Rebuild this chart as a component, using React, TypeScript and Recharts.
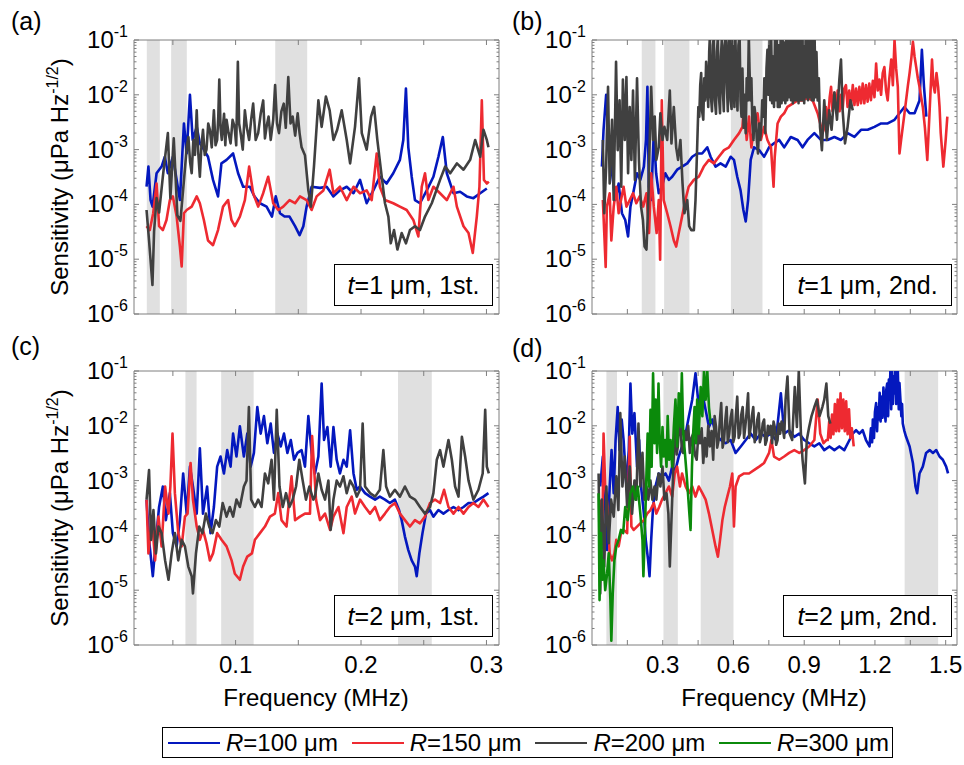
import React from 'react';
import { LineChart, Line, XAxis, YAxis, ReferenceArea } from 'recharts';

type P = [number, number];

const FONT = '"Liberation Sans", Arial, Helvetica, sans-serif';
const AXIS_COLOR = '#7f7f7f';
const BAND_COLOR = '#e0e0e0';

const RADII = ['100', '150', '200', '300'];
const COLORS = ['#0418be', '#ee2a31', '#404040', '#0b8a0b'];

const Y_DECADES = [1e-6, 1e-5, 1e-4, 1e-3, 1e-2, 1e-1];
const Y_MINOR_MULT = [2, 3, 4, 5, 6, 7, 8, 9];
const Y_TICKS = [...Y_DECADES, ...Y_DECADES.slice(0, 5).flatMap((d) => Y_MINOR_MULT.map((m) => m * d))];
const Y_DOMAIN: [number, number] = [1e-6, 1e-1];

const X_TICKS_1ST = [0.05, 0.1, 0.15, 0.2, 0.25, 0.3];
const X_LABELS_1ST = [0.1, 0.2, 0.3];
const X_TICKS_2ND = [0.15, 0.3, 0.45, 0.6, 0.75, 0.9, 1.05, 1.2, 1.35, 1.5];
const X_LABELS_2ND = [0.3, 0.6, 0.9, 1.2, 1.5];
const X_DOMAIN_1ST: [number, number] = [0.019, 0.31];
const X_DOMAIN_2ND: [number, number] = [0, 1.548];

const BANDS_A: P[] = [[0.0292, 0.0396], [0.0486, 0.0611], [0.1316, 0.1571]];
const BANDS_B: P[] = [[0.211, 0.269], [0.306, 0.413], [0.589, 0.723]];
const BANDS_C: P[] = [[0.06, 0.0689], [0.0885, 0.1144], [0.2295, 0.2564]];
const BANDS_D: P[] = [[0.061, 0.106], [0.303, 0.364], [0.461, 0.6], [1.326, 1.468]];

// ---------- (a) t=1 um, 1st ----------
const A_R100: P[] = [[0.029,2.1e-4],[0.0305,4.9e-4],[0.0322,1.2e-4],[0.0338,9.1e-5],[0.037,3.7e-4],[0.041,4.9e-4],[0.0436,7.4e-4],[0.046,3.7e-4],[0.05,7.4e-4],[0.0556,1.2e-4],[0.0588,3.0e-3],[0.061,8.5e-4],[0.0636,1.0e-2],[0.0658,1.5e-3],[0.069,2.6e-3],[0.0715,1.3e-3],[0.0747,1.0e-3],[0.078,7.4e-4],[0.082,2.8e-4],[0.086,1.4e-4],[0.0887,5.6e-4],[0.0928,6.5e-4],[0.098,8.5e-4],[0.102,3.7e-4],[0.106,2.1e-4],[0.1114,2.1e-4],[0.115,1.4e-4],[0.1194,1.05e-4],[0.1247,9.1e-5],[0.129,6.0e-5],[0.132,1.4e-4],[0.1354,6.9e-5],[0.139,6.0e-5],[0.143,6.0e-5],[0.1474,4.0e-5],[0.151,2.75e-5],[0.154,4.0e-5],[0.1566,9.1e-5],[0.1606,2.1e-4],[0.1673,2.0e-4],[0.1726,2.1e-4],[0.178,1.4e-4],[0.1832,1.8e-4],[0.1886,2.1e-4],[0.194,1.6e-4],[0.1992,2.8e-4],[0.2045,1.05e-4],[0.2098,1.8e-4],[0.215,3.2e-4],[0.2204,2.4e-4],[0.2257,3.7e-4],[0.231,6.5e-4],[0.2337,1.5e-3],[0.2358,1.3e-2],[0.2377,1.1e-3],[0.2404,3.2e-4],[0.243,1.2e-4],[0.247,1.05e-4],[0.2524,1.8e-4],[0.2577,3.2e-4],[0.2617,7.4e-4],[0.2652,1.7e-3],[0.2684,3.7e-4],[0.2737,1.6e-4],[0.279,1.7e-4],[0.2843,1.4e-4],[0.2896,1.3e-4],[0.295,1.6e-4],[0.3003,1.95e-4]];
const A_R150: P[] = [[0.029,4.0e-5],[0.0316,3.4e-5],[0.0343,6.9e-5],[0.037,2.4e-4],[0.039,4.0e-5],[0.042,3.4e-5],[0.0449,5.2e-5],[0.0476,1.2e-4],[0.05,1.4e-4],[0.053,6.0e-5],[0.0556,1.7e-5],[0.057,7.4e-6],[0.0588,6.9e-5],[0.061,7.9e-5],[0.065,9.1e-5],[0.069,1.4e-4],[0.0715,1.05e-4],[0.0747,5.2e-5],[0.078,2.2e-5],[0.082,1.8e-5],[0.086,3.4e-5],[0.09,9.1e-5],[0.094,1.2e-4],[0.0967,5.2e-5],[0.0994,4.0e-5],[0.1034,6.0e-5],[0.1074,1.2e-4],[0.1108,4.9e-4],[0.114,1.6e-4],[0.118,9.1e-5],[0.122,1.6e-4],[0.126,3.2e-4],[0.13,1.05e-4],[0.134,7.9e-5],[0.138,9.1e-5],[0.143,1.2e-4],[0.1474,1.05e-4],[0.1513,1.4e-4],[0.1566,1.2e-4],[0.1606,7.9e-5],[0.1646,1.4e-4],[0.17,1.8e-4],[0.175,4.3e-4],[0.178,1.6e-4],[0.1832,2.1e-4],[0.1886,1.2e-4],[0.194,2.1e-4],[0.1992,1.6e-4],[0.2045,1.8e-4],[0.2085,1.2e-4],[0.2125,8.5e-4],[0.215,2.1e-4],[0.2191,1.2e-4],[0.2257,1.05e-4],[0.231,9.1e-5],[0.2364,7.9e-5],[0.2417,5.2e-5],[0.2457,2.6e-5],[0.2484,2.1e-4],[0.251,3.7e-4],[0.2537,1.2e-4],[0.2577,2.1e-4],[0.263,1.6e-4],[0.2684,1.2e-4],[0.2737,2.1e-4],[0.2764,9.1e-5],[0.2817,4.0e-5],[0.2857,3.0e-5],[0.2891,1.3e-5],[0.2923,6.0e-5],[0.2944,2.1e-4],[0.2963,7.9e-3],[0.298,2.8e-4],[0.3003,2.4e-4],[0.3019,2.6e-4]];
const A_R200: P[] = [[0.029,7.9e-5],[0.031,2.2e-5],[0.0337,3.4e-6],[0.035,3.2e-5],[0.037,1.3e-4],[0.039,7.1e-5],[0.042,3.2e-4],[0.046,2.0e-3],[0.048,1.3e-4],[0.0507,1.6e-3],[0.0536,6.3e-5],[0.056,5.0e-5],[0.0598,5.0e-4],[0.0612,1.2e-3],[0.0624,1.7e-3],[0.0637,6e-4],[0.065,3.7e-4],[0.0663,1.5e-3],[0.0676,8e-4],[0.069,5.2e-3],[0.0702,9e-4],[0.0715,3.2e-4],[0.0728,1.2e-3],[0.074,2.3e-3],[0.0754,8e-4],[0.0768,1.0e-3],[0.0782,3e-3],[0.0795,2.3e-3],[0.081,1.1e-3],[0.0827,5.2e-3],[0.084,1.2e-3],[0.0853,1.5e-3],[0.0862,4e-3],[0.087,1.9e-2],[0.088,2.5e-3],[0.089,1.5e-3],[0.0908,4.5e-3],[0.0918,1.2e-3],[0.0928,3.5e-3],[0.0944,2e-3],[0.096,1.3e-3],[0.0976,3.5e-3],[0.0992,2.6e-3],[0.1005,1.2e-3],[0.1018,4.0e-2],[0.1028,3e-3],[0.104,2.0e-3],[0.1057,1e-3],[0.1074,5.2e-3],[0.109,2.5e-3],[0.1108,1.5e-3],[0.1124,3.5e-3],[0.114,6.9e-3],[0.116,1.5e-3],[0.118,2.0e-3],[0.12,4.5e-3],[0.122,7.9e-3],[0.1234,1.6e-3],[0.1247,2.6e-3],[0.1263,4e-3],[0.128,1.5e-3],[0.13,3.5e-3],[0.1315,1.5e-2],[0.133,3e-3],[0.1346,2.0e-3],[0.1365,5e-3],[0.1384,6.9e-3],[0.14,2.5e-3],[0.142,2.1e-2],[0.1438,3e-3],[0.1455,4.0e-3],[0.1475,1.8e-3],[0.1495,4.6e-3],[0.151,2e-3],[0.1526,1.1e-3],[0.1553,7.9e-4],[0.158,1.8e-4],[0.16,9.1e-5],[0.1625,5.0e-4],[0.166,7.9e-3],[0.1686,2.6e-3],[0.172,9.3e-3],[0.175,5.2e-3],[0.178,1.5e-3],[0.181,2.3e-3],[0.1846,5.2e-3],[0.1886,1.5e-3],[0.1913,5.6e-4],[0.1952,2.6e-3],[0.1984,2.0e-2],[0.2006,2.0e-3],[0.2045,1.0e-3],[0.208,4.0e-3],[0.2104,6.0e-3],[0.213,1.5e-3],[0.2165,3.2e-4],[0.2191,1.05e-4],[0.2218,6.0e-5],[0.2237,1.95e-5],[0.2263,3.4e-5],[0.229,1.5e-5],[0.2324,3.0e-5],[0.2358,1.95e-5],[0.239,3.4e-5],[0.243,4.0e-5],[0.247,3.4e-5],[0.251,6.0e-5],[0.2564,1.05e-4],[0.263,2.8e-4],[0.2671,4.9e-4],[0.2711,3.7e-4],[0.2764,5.6e-4],[0.2817,4.3e-4],[0.287,6.5e-4],[0.291,1.5e-3],[0.295,7.4e-4],[0.2976,2.3e-3],[0.3003,1.5e-3],[0.3016,1.1e-3]];

// ---------- (b) t=1 um, 2nd ----------
const B_R100: P[] = [[0.042,4.9e-4],[0.049,2.3e-3],[0.06,1.0e-2],[0.0705,1.5e-3],[0.085,3.7e-4],[0.099,1.2e-4],[0.113,2.4e-4],[0.127,6.9e-5],[0.141,5.2e-5],[0.153,2.6e-5],[0.163,9.1e-5],[0.177,1.8e-4],[0.191,3.7e-4],[0.205,2.8e-4],[0.22,4.9e-4],[0.229,1.5e-3],[0.235,1.4e-2],[0.241,2.1e-4],[0.251,1.2e-4],[0.262,2.0e-3],[0.272,3.7e-4],[0.283,1.6e-4],[0.297,2.1e-4],[0.311,3.7e-4],[0.326,2.8e-4],[0.34,3.2e-4],[0.361,4.3e-4],[0.382,4.9e-4],[0.404,5.6e-4],[0.425,7.4e-4],[0.446,8.5e-4],[0.467,8.5e-4],[0.489,1.1e-3],[0.503,7.4e-4],[0.524,4.9e-4],[0.545,5.6e-4],[0.567,4.9e-4],[0.588,7.4e-4],[0.602,6.5e-4],[0.616,3.2e-4],[0.63,1.8e-4],[0.642,7.9e-5],[0.652,4.9e-5],[0.662,1.2e-4],[0.673,6.5e-4],[0.687,1.1e-3],[0.709,9.8e-4],[0.73,7.4e-4],[0.751,1.1e-3],[0.772,1.3e-3],[0.794,1.5e-3],[0.815,1.1e-3],[0.843,1.7e-3],[0.872,1.5e-3],[0.893,1.1e-3],[0.914,1.5e-3],[0.943,2.0e-3],[0.971,1.5e-3],[0.999,1.5e-3],[1.028,1.7e-3],[1.056,1.5e-3],[1.084,2.0e-3],[1.113,1.7e-3],[1.141,2.3e-3],[1.169,2.3e-3],[1.198,2.6e-3],[1.226,3.0e-3],[1.254,3.0e-3],[1.283,3.5e-3],[1.304,4.6e-3],[1.325,6.0e-3],[1.347,4.6e-3],[1.368,4.6e-3],[1.389,7.9e-3],[1.399,6.6e-2],[1.408,1.4e-2],[1.418,4.0e-3]];
const B_R150: P[] = [[0.046,1.2e-4],[0.052,3.0e-5],[0.058,7.2e-6],[0.063,9.1e-5],[0.075,1.6e-4],[0.082,2.2e-5],[0.092,9.1e-5],[0.103,2.1e-4],[0.113,6.9e-5],[0.123,1.2e-4],[0.134,2.1e-4],[0.146,9.1e-5],[0.16,1.2e-4],[0.174,1.6e-4],[0.188,1.05e-4],[0.202,1.4e-4],[0.217,9.1e-5],[0.231,1.6e-4],[0.242,3.0e-5],[0.251,3.7e-4],[0.262,9.1e-5],[0.274,3.0e-5],[0.283,1.2e-4],[0.289,9.8e-6],[0.296,7.9e-3],[0.304,1.2e-4],[0.319,6.9e-5],[0.333,4.0e-5],[0.347,2.2e-5],[0.357,1.7e-5],[0.368,3.0e-5],[0.382,6.0e-5],[0.396,1.2e-4],[0.41,2.1e-4],[0.432,2.8e-4],[0.453,3.2e-4],[0.474,4.9e-4],[0.496,6.5e-4],[0.517,5.6e-4],[0.538,7.4e-4],[0.56,9.8e-4],[0.581,1.1e-3],[0.602,1.5e-3],[0.624,2.0e-3],[0.638,2.6e-3],[0.645,6.9e-3],[0.656,1.5e-3],[0.666,4.0e-3],[0.676,1.1e-3],[0.687,2.6e-3],[0.702,4.6e-3],[0.716,1.5e-3],[0.73,2.6e-3],[0.744,1.5e-3],[0.759,1.1e-3],[0.77,2.1e-4],[0.775,7.4e-4],[0.787,3.0e-3],[0.801,4.0e-3],[0.815,4.6e-3],[0.829,6.0e-3],[0.851,6.9e-3],[0.872,7.9e-3],[0.893,7.9e-3],[0.914,8.7e-3],[0.936,7.9e-3],[0.957,4.6e-3],[0.978,2.0e-3],[0.985,2.5e-3],[0.992,6.0e-3],[1.0,3.0e-3],[1.008,9.0e-3],[1.014,1.4e-2],[1.02,5.0e-3],[1.028,1.1e-2],[1.035,5.5e-3],[1.042,1.2e-2],[1.05,5.0e-3],[1.056,1.0e-2],[1.063,5.5e-3],[1.07,1.3e-2],[1.077,1.5e-2],[1.084,6.0e-3],[1.091,1.2e-2],[1.098,6.0e-3],[1.106,1.5e-2],[1.113,6.5e-3],[1.12,1.3e-2],[1.127,6.5e-3],[1.134,1.4e-2],[1.141,7.0e-3],[1.148,1.6e-2],[1.155,7.0e-3],[1.162,1.5e-2],[1.169,7.5e-3],[1.176,1.6e-2],[1.183,8.0e-3],[1.191,1.8e-2],[1.198,9.0e-3],[1.205,3.7e-2],[1.212,1.2e-2],[1.219,1.9e-2],[1.226,1.0e-2],[1.233,2.5e-2],[1.24,3.2e-2],[1.247,1.2e-2],[1.254,7.9e-3],[1.261,2.0e-2],[1.269,4.4e-2],[1.276,1.5e-2],[1.283,1.0e-1],[1.29,3.0e-2],[1.297,1.4e-2],[1.304,8.5e-4],[1.311,1.5e-3],[1.318,2.6e-3],[1.325,4.5e-3],[1.332,7.9e-3],[1.34,1.5e-2],[1.347,2.5e-2],[1.354,4.5e-2],[1.361,9.3e-2],[1.368,5.0e-2],[1.375,3.2e-2],[1.382,2.0e-2],[1.389,1.4e-2],[1.396,9.0e-3],[1.403,6.0e-3],[1.412,2.5e-3],[1.422,6.5e-4],[1.432,5.2e-3],[1.442,4.4e-2],[1.448,1.5e-2],[1.454,1.1e-2],[1.461,2.5e-2],[1.468,1.4e-2],[1.474,6.0e-3],[1.479,2.0e-3],[1.49,4.9e-4],[1.5,1.5e-3],[1.507,4.0e-3]];
const B_R200: P[] = [[0.046,1.5e-3],[0.052,6.9e-5],[0.06,4.9e-4],[0.068,1.4e-2],[0.075,2.4e-4],[0.085,3.5e-3],[0.092,1.2e-4],[0.102,4.0e-2],[0.109,9.8e-4],[0.117,7.9e-3],[0.124,2.1e-4],[0.131,1.9e-2],[0.139,1.5e-3],[0.146,2.1e-2],[0.153,3.7e-4],[0.16,6.0e-3],[0.167,6.5e-4],[0.174,1.2e-2],[0.182,2.8e-4],[0.191,2.0e-2],[0.199,6.5e-4],[0.208,9.1e-5],[0.216,5.2e-5],[0.223,1.7e-5],[0.231,1.5e-5],[0.238,9.1e-5],[0.243,7.4e-4],[0.251,1.4e-2],[0.259,1.5e-3],[0.266,4.0e-3],[0.273,6.5e-4],[0.283,1.1e-3],[0.29,4.6e-3],[0.299,1.5e-3],[0.307,2.6e-3],[0.319,1.5e-3],[0.33,1.2e-2],[0.337,1.3e-3],[0.347,6.0e-3],[0.357,1.1e-3],[0.365,6.5e-4],[0.375,1.5e-3],[0.384,2.4e-4],[0.392,6.9e-5],[0.404,1.2e-4],[0.412,4.0e-5],[0.421,3.4e-5],[0.432,3.4e-5],[0.439,1.2e-4],[0.446,1.1e-3],[0.451,6e-3],[0.455,4.0e-3],[0.459,1.5e-2],[0.463,2.5e-2],[0.467,5e-3],[0.472,3.5e-3],[0.476,2e-2],[0.48,7.9e-3],[0.484,4e-2],[0.489,1.6e-2],[0.493,6e-3],[0.497,6e-2],[0.5,1.2e-1],[0.504,1e-2],[0.509,5e-3],[0.513,8e-2],[0.517,1.2e-1],[0.521,8e-3],[0.526,4.5e-3],[0.53,6e-2],[0.534,1.2e-1],[0.538,1e-2],[0.543,4.6e-3],[0.547,5e-2],[0.551,1.2e-1],[0.555,1.2e-2],[0.559,5e-3],[0.563,8e-2],[0.568,1.2e-1],[0.572,1.5e-2],[0.576,5e-3],[0.58,9e-2],[0.584,1.2e-1],[0.588,7.9e-3],[0.592,5.5e-3],[0.596,1.2e-1],[0.6,3e-2],[0.604,6e-3],[0.608,1.2e-1],[0.612,2e-2],[0.617,5.2e-3],[0.621,8e-2],[0.626,1.2e-1],[0.63,7.9e-3],[0.634,4e-3],[0.638,3e-2],[0.643,2.5e-3],[0.647,1e-2],[0.652,2.0e-3],[0.656,2e-2],[0.661,7.9e-3],[0.665,1.2e-1],[0.668,3e-2],[0.672,7.9e-3],[0.676,2e-2],[0.68,3e-3],[0.685,1.5e-3],[0.689,6e-3],[0.694,4.0e-3],[0.699,1.5e-3],[0.704,8.5e-4],[0.709,3e-3],[0.713,1.5e-3],[0.718,2.6e-3],[0.722,7.9e-3],[0.727,4e-3],[0.731,2.0e-2],[0.735,2.0e-3],[0.74,3e-2],[0.744,6.6e-2],[0.748,1e-2],[0.752,1.2e-1],[0.756,8e-3],[0.76,1.2e-1],[0.764,7e-3],[0.768,5e-2],[0.772,6e-3],[0.776,1.2e-1],[0.78,8e-3],[0.784,1.2e-1],[0.788,6e-3],[0.792,8e-2],[0.796,6e-3],[0.8,1.2e-1],[0.804,7e-3],[0.808,1.2e-1],[0.812,8e-3],[0.816,9e-2],[0.82,7e-3],[0.824,1.2e-1],[0.828,8e-3],[0.832,1.2e-1],[0.836,9e-3],[0.84,1.2e-1],[0.844,8e-3],[0.848,1.2e-1],[0.852,7e-3],[0.856,1.2e-1],[0.86,8e-3],[0.864,1.2e-1],[0.868,8e-3],[0.872,1.2e-1],[0.876,7e-3],[0.88,1.2e-1],[0.884,8e-3],[0.888,1.2e-1],[0.892,8e-3],[0.896,1.2e-1],[0.9,7e-3],[0.904,1.2e-1],[0.908,9e-3],[0.912,1.2e-1],[0.916,8e-3],[0.92,1.2e-1],[0.924,9e-3],[0.928,1.2e-1],[0.932,8e-3],[0.936,1.2e-1],[0.94,7.9e-3],[0.944,1.2e-1],[0.948,9e-3],[0.952,6e-2],[0.957,7.9e-3],[0.962,2e-2],[0.967,2.6e-3],[0.975,9.8e-4],[0.985,7.9e-3],[0.996,1.5e-3],[1.006,5.2e-3],[1.016,2.3e-3],[1.028,1.1e-2],[1.039,3.5e-3],[1.049,1.9e-2],[1.056,4.4e-2],[1.063,5.2e-3],[1.073,1.3e-3],[1.084,2.6e-3],[1.096,7.9e-3],[1.106,5.2e-3]];

// ---------- (c) t=2 um, 1st ----------
const C_R100: P[] = [[0.029,4.5e-4],[0.031,8.3e-5],[0.034,1.8e-5],[0.0365,8.3e-5],[0.039,3.3e-4],[0.042,7.8e-4],[0.0444,1.9e-4],[0.0476,5.9e-4],[0.05,1.1e-4],[0.053,6.3e-5],[0.0556,1.9e-4],[0.0582,1.35e-3],[0.061,2.5e-4],[0.0636,1.8e-3],[0.066,7.8e-4],[0.069,2.5e-4],[0.0715,3.9e-3],[0.074,2.5e-4],[0.0773,7.8e-4],[0.08,1.1e-4],[0.0827,3.3e-4],[0.0853,1.8e-3],[0.088,2.75e-3],[0.0907,1.35e-3],[0.0933,3.6e-3],[0.096,1.8e-3],[0.098,7.2e-3],[0.1007,2.75e-3],[0.1034,9.8e-3],[0.1066,2.75e-3],[0.1093,7.2e-3],[0.112,1.8e-3],[0.1146,3.2e-3],[0.1173,2.2e-2],[0.12,7.2e-3],[0.1226,1.5e-2],[0.1253,4.8e-3],[0.128,1.1e-2],[0.1306,3.2e-3],[0.1333,7.2e-3],[0.136,4.2e-3],[0.1386,7.2e-3],[0.1413,3.2e-3],[0.144,5.5e-3],[0.1466,2.4e-3],[0.1493,3.2e-3],[0.1526,3.6e-3],[0.1553,1.8e-3],[0.158,1.5e-2],[0.1606,3.2e-3],[0.1633,1.35e-3],[0.166,2.75e-3],[0.1686,5.9e-2],[0.1705,5.5e-3],[0.1732,9.5e-3],[0.1758,1.8e-3],[0.178,9.5e-3],[0.1806,2.4e-3],[0.1832,1.35e-3],[0.186,2.4e-3],[0.1886,1.8e-3],[0.1913,8.3e-3],[0.194,1.35e-3],[0.1966,6.8e-4],[0.1992,7.8e-4],[0.2032,5.9e-4],[0.2072,5.1e-4],[0.2112,4.5e-4],[0.215,5.1e-4],[0.2191,4.5e-4],[0.223,3.9e-4],[0.227,4.5e-4],[0.2303,2.9e-4],[0.2324,1.9e-4],[0.235,9.5e-5],[0.2377,5.4e-5],[0.2404,3.5e-5],[0.243,2.7e-5],[0.2444,1.8e-5],[0.2465,4.7e-5],[0.249,1.1e-4],[0.2518,2.5e-4],[0.255,2.9e-4],[0.2577,2.2e-4],[0.2617,2.9e-4],[0.2657,2.5e-4],[0.2697,2.9e-4],[0.2737,3.3e-4],[0.2777,2.9e-4],[0.2817,3.3e-4],[0.2857,3.9e-4],[0.2896,3.9e-4],[0.2936,4.5e-4],[0.2976,5.1e-4],[0.3016,5.9e-4]];
const C_R150: P[] = [[0.029,4.5e-4],[0.0305,4.7e-5],[0.0332,2.2e-4],[0.0358,3.5e-5],[0.0385,2.2e-4],[0.041,6.3e-5],[0.0438,7.8e-4],[0.0465,2.5e-4],[0.048,7.8e-4],[0.0497,7.2e-3],[0.0516,5.9e-4],[0.0543,1.1e-4],[0.057,6.3e-5],[0.0596,2.2e-4],[0.0617,2.5e-4],[0.0641,2.1e-3],[0.066,4.5e-4],[0.069,1.45e-4],[0.0715,8.3e-5],[0.074,1.26e-4],[0.0768,7.2e-5],[0.0795,3.5e-5],[0.082,4.7e-5],[0.0853,1.1e-4],[0.0888,8.3e-5],[0.0928,6.3e-5],[0.0968,3.5e-5],[0.0994,2.0e-5],[0.1034,1.55e-5],[0.106,2.7e-5],[0.1093,4.1e-5],[0.113,4.7e-5],[0.1154,8.3e-5],[0.1194,1.1e-4],[0.1234,1.45e-4],[0.1274,2.2e-4],[0.1313,2.5e-4],[0.134,5.9e-4],[0.1366,1.9e-4],[0.1406,1.45e-4],[0.1446,1.2e-3],[0.1474,1.9e-4],[0.1513,2.2e-4],[0.1553,2.5e-4],[0.1593,2.5e-4],[0.161,6.5e-3],[0.1641,4.5e-4],[0.1673,1.9e-4],[0.1713,2.5e-4],[0.1753,1.26e-4],[0.178,2.2e-4],[0.182,3.3e-4],[0.186,1.1e-4],[0.1886,3.3e-4],[0.1926,5.1e-4],[0.1952,2.5e-4],[0.1992,4.5e-4],[0.2032,3.3e-4],[0.2072,2.5e-4],[0.2112,3.3e-4],[0.215,1.9e-4],[0.2191,2.5e-4],[0.223,3.3e-4],[0.227,3.9e-4],[0.231,2.5e-4],[0.235,1.9e-4],[0.239,1.45e-4],[0.243,1.9e-4],[0.247,1.66e-4],[0.251,2.2e-4],[0.255,3.9e-4],[0.259,4.5e-4],[0.263,3.9e-4],[0.2662,6.8e-4],[0.2697,3.3e-4],[0.2737,2.5e-4],[0.2777,3.3e-4],[0.2817,2.5e-4],[0.2857,3.3e-4],[0.2896,3.9e-4],[0.2936,3.3e-4],[0.2976,4.5e-4],[0.3016,3.3e-4]];
const C_R200: P[] = [[0.029,4.5e-4],[0.031,1.55e-3],[0.0326,8.3e-5],[0.0345,2.9e-4],[0.0365,4.7e-5],[0.0385,1.45e-4],[0.041,1.1e-4],[0.0438,3.5e-5],[0.0465,1.55e-5],[0.049,4.7e-5],[0.0516,1.1e-4],[0.0543,3.5e-5],[0.057,8.3e-5],[0.0596,6.3e-5],[0.0623,2.7e-5],[0.065,1.8e-5],[0.066,8.7e-6],[0.0684,4.7e-5],[0.071,1.45e-4],[0.0736,1.1e-4],[0.0763,2.5e-4],[0.079,1.45e-4],[0.0816,1.1e-4],[0.0843,1.9e-4],[0.087,1.45e-4],[0.0897,3.9e-4],[0.0928,2.2e-4],[0.0954,3.3e-4],[0.098,2.2e-4],[0.1007,4.5e-4],[0.1034,3.3e-4],[0.1066,7.8e-4],[0.1087,1.0e-3],[0.1106,2.2e-2],[0.1124,4.5e-4],[0.1154,3.3e-4],[0.118,4.5e-4],[0.1207,3.3e-4],[0.1234,1.35e-3],[0.126,8.9e-4],[0.1287,2.4e-3],[0.1306,4.5e-4],[0.1328,1.95e-2],[0.135,7.8e-4],[0.1376,3.3e-4],[0.1402,5.9e-4],[0.1429,3.3e-4],[0.1455,4.5e-4],[0.1482,7.8e-4],[0.1508,2.4e-3],[0.1535,1.0e-3],[0.1561,4.5e-4],[0.1588,7.8e-4],[0.162,4.5e-4],[0.1633,5.1e-4],[0.166,1.35e-3],[0.1686,6.8e-4],[0.1713,4.5e-4],[0.174,1.0e-3],[0.1758,1.26e-4],[0.178,4.5e-4],[0.1806,1.0e-3],[0.1832,7.8e-4],[0.186,1.2e-3],[0.1886,5.9e-4],[0.1913,1.0e-3],[0.194,7.8e-4],[0.1966,5.1e-4],[0.1992,6.8e-4],[0.2013,1.1e-2],[0.2032,7.8e-4],[0.2072,5.9e-4],[0.2112,5.1e-4],[0.215,6.8e-4],[0.2178,3.6e-3],[0.22,7.8e-4],[0.223,5.1e-4],[0.227,6.8e-4],[0.231,5.1e-4],[0.235,7.8e-4],[0.239,5.1e-4],[0.243,4.5e-4],[0.247,3.3e-4],[0.251,2.5e-4],[0.255,3.3e-4],[0.2577,5.9e-4],[0.2604,2.4e-3],[0.263,3.6e-3],[0.2657,1.8e-3],[0.2697,5.5e-3],[0.2724,2.4e-3],[0.275,7.8e-4],[0.2777,5.1e-4],[0.2804,6.3e-3],[0.283,2.75e-3],[0.2857,1.0e-3],[0.2896,4.5e-4],[0.2936,6.8e-4],[0.297,1.35e-3],[0.299,1.95e-2],[0.3003,1.8e-3],[0.3019,1.35e-3]];

// ---------- (d) t=2 um, 2nd ----------
const D_R100: P[] = [[0.035,7.8e-4],[0.046,2.75e-3],[0.056,3.3e-4],[0.064,5.4e-5],[0.075,7.8e-4],[0.083,3.6e-3],[0.092,5.9e-4],[0.1,5.5e-3],[0.109,2.2e-2],[0.117,3.6e-3],[0.126,1.3e-2],[0.134,5.5e-3],[0.146,7.8e-4],[0.156,3.6e-3],[0.163,5.9e-2],[0.171,7.2e-3],[0.18,1.7e-2],[0.191,1.8e-3],[0.2,5.5e-3],[0.208,7.8e-4],[0.22,2.5e-4],[0.228,8.3e-5],[0.238,3.5e-5],[0.244,1.8e-5],[0.251,8.3e-5],[0.259,3.3e-4],[0.269,7.8e-4],[0.283,1.35e-3],[0.297,1.2e-3],[0.312,1.35e-3],[0.326,1.0e-3],[0.34,1.8e-3],[0.354,1.55e-3],[0.368,2.75e-3],[0.382,4.2e-3],[0.397,7.2e-3],[0.411,1.5e-2],[0.425,3.0e-2],[0.439,9.1e-2],[0.453,2.2e-2],[0.468,3.9e-2],[0.482,1.95e-2],[0.496,9.5e-3],[0.51,1.3e-2],[0.524,7.2e-3],[0.546,5.5e-3],[0.567,4.8e-3],[0.588,5.5e-3],[0.609,3.2e-3],[0.631,4.2e-3],[0.652,5.5e-3],[0.673,7.2e-3],[0.694,5.5e-3],[0.716,7.2e-3],[0.737,6.3e-3],[0.758,7.2e-3],[0.78,5.5e-3],[0.801,3.9e-2],[0.815,7.2e-3],[0.836,8.3e-3],[0.858,6.3e-3],[0.879,7.2e-3],[0.9,5.5e-3],[0.921,4.8e-3],[0.943,4.2e-3],[0.964,4.8e-3],[0.985,3.6e-3],[1.007,4.2e-3],[1.028,3.6e-3],[1.049,4.2e-3],[1.07,3.6e-3],[1.092,5.5e-3],[1.106,7.2e-3],[1.12,8.3e-3],[1.134,7.2e-3],[1.148,8.3e-3],[1.162,5.5e-3],[1.177,4.2e-3],[1.183,9e-3],[1.188,5e-3],[1.191,1.3e-2],[1.196,6e-3],[1.2,1.8e-2],[1.205,2.6e-2],[1.209,8e-3],[1.213,2.2e-2],[1.216,1.3e-2],[1.22,4e-2],[1.224,1.2e-2],[1.228,3.4e-2],[1.232,1.4e-2],[1.236,5e-2],[1.241,1.95e-2],[1.245,1.2e-2],[1.248,4.5e-2],[1.252,5.9e-2],[1.256,1.5e-2],[1.259,7e-2],[1.262,3.0e-2],[1.266,1.2e-1],[1.269,2e-2],[1.272,1.0e-1],[1.276,2.5e-2],[1.279,8e-2],[1.283,3.9e-2],[1.286,1.2e-1],[1.29,2.5e-2],[1.293,9e-2],[1.297,1.0e-1],[1.301,2e-2],[1.304,6e-2],[1.308,3.0e-2],[1.312,1.5e-2],[1.315,2.5e-2],[1.318,1.1e-2],[1.325,8e-3],[1.332,6.3e-3],[1.347,4.2e-3],[1.361,2.1e-3],[1.372,7.8e-4],[1.379,5.9e-4],[1.389,1.35e-3],[1.403,1.8e-3],[1.417,3.2e-3],[1.432,3.6e-3],[1.446,3.2e-3],[1.46,3.6e-3],[1.474,2.75e-3],[1.488,2.4e-3],[1.502,1.8e-3],[1.51,1.35e-3]];
const D_R150: P[] = [[0.035,4.5e-4],[0.044,1.1e-4],[0.049,7.2e-3],[0.056,7.8e-4],[0.066,3.3e-4],[0.075,4.7e-5],[0.085,3.5e-5],[0.095,4.7e-5],[0.103,8.3e-5],[0.113,6.3e-5],[0.123,1.1e-4],[0.134,1.26e-4],[0.149,1.1e-4],[0.16,6.3e-3],[0.167,1.45e-4],[0.177,1.26e-4],[0.191,1.45e-4],[0.205,1.66e-4],[0.22,1.9e-4],[0.234,2.5e-4],[0.248,2.9e-4],[0.262,3.9e-4],[0.273,2.5e-4],[0.285,3.3e-4],[0.297,4.5e-4],[0.312,5.9e-4],[0.326,7.8e-4],[0.34,5.1e-4],[0.351,1.35e-3],[0.361,1.8e-3],[0.373,7.8e-4],[0.382,1.35e-3],[0.397,7.8e-4],[0.411,5.9e-4],[0.425,7.8e-4],[0.439,5.1e-4],[0.453,7.8e-4],[0.468,5.9e-4],[0.482,4.5e-4],[0.496,2.5e-4],[0.51,1.26e-4],[0.524,6.3e-5],[0.534,4.1e-5],[0.543,8.3e-5],[0.553,1.9e-4],[0.563,3.3e-4],[0.574,5.1e-4],[0.585,7.8e-4],[0.595,1.35e-3],[0.602,1.45e-4],[0.609,7.8e-4],[0.624,1.2e-3],[0.645,1.35e-3],[0.666,1.35e-3],[0.687,1.55e-3],[0.709,1.8e-3],[0.73,2.1e-3],[0.751,3.2e-3],[0.761,5.5e-3],[0.772,2.75e-3],[0.794,2.4e-3],[0.815,2.75e-3],[0.836,3.2e-3],[0.858,3.6e-3],[0.879,3.2e-3],[0.9,3.6e-3],[0.921,4.2e-3],[0.943,5.5e-3],[0.957,3.0e-2],[0.968,7.2e-3],[0.982,4.8e-3],[0.994,5.5e-3],[1.0,5.5e-3],[1.006,1.2e-2],[1.012,6.0e-3],[1.018,1.6e-2],[1.024,7.0e-3],[1.03,2.5e-2],[1.036,8.0e-3],[1.042,3.0e-2],[1.048,8.0e-3],[1.054,3.9e-2],[1.06,9.0e-3],[1.066,3.0e-2],[1.072,8.0e-3],[1.078,2.8e-2],[1.084,7.0e-3],[1.09,2.0e-2],[1.096,6.0e-3],[1.102,9.0e-3],[1.11,4.2e-3]];
const D_R200: P[] = [[0.028,1.35e-3],[0.035,8.7e-6],[0.042,4.5e-4],[0.052,2.7e-5],[0.061,7.8e-4],[0.071,7.2e-5],[0.081,4.5e-4],[0.092,2.2e-4],[0.103,1.2e-3],[0.112,2.9e-4],[0.12,1.7e-2],[0.129,7.8e-4],[0.139,2.75e-3],[0.149,3.3e-4],[0.16,1.8e-3],[0.17,2.5e-4],[0.18,1.0e-3],[0.188,4.5e-4],[0.197,1.1e-2],[0.205,7.8e-4],[0.214,3.2e-3],[0.222,4.5e-4],[0.231,7.8e-4],[0.239,4.5e-4],[0.248,1.0e-3],[0.256,4.5e-4],[0.265,7.8e-4],[0.273,4.5e-4],[0.282,1.35e-3],[0.29,7.8e-4],[0.299,1.8e-3],[0.307,4.5e-4],[0.316,5.9e-4],[0.324,2.5e-4],[0.33,2.7e-5],[0.336,1.45e-4],[0.344,1.35e-3],[0.349,5e-3],[0.354,1.3e-2],[0.359,3e-3],[0.364,4.2e-3],[0.37,1.2e-2],[0.376,9.5e-3],[0.381,3.5e-3],[0.387,3.2e-3],[0.394,8e-3],[0.401,5.5e-3],[0.408,1e-2],[0.415,3.2e-3],[0.422,6e-3],[0.429,7.2e-3],[0.436,3e-3],[0.444,2.4e-3],[0.451,7e-3],[0.458,4.8e-3],[0.465,9e-3],[0.472,2.1e-3],[0.479,6e-3],[0.486,2.75e-3],[0.493,1e-2],[0.5,4.2e-3],[0.507,8e-3],[0.514,2.4e-3],[0.52,1.5e-2],[0.526,9.5e-3],[0.531,4e-3],[0.537,5.5e-3],[0.542,1.2e-2],[0.548,2.6e-2],[0.554,4e-3],[0.56,5.5e-3],[0.565,1.2e-2],[0.571,2.2e-2],[0.576,5e-3],[0.582,7.2e-3],[0.588,1.4e-2],[0.594,1.95e-2],[0.599,5e-3],[0.605,6.3e-3],[0.61,1.5e-2],[0.616,3.4e-2],[0.622,6e-3],[0.628,7.2e-3],[0.633,1.6e-2],[0.639,2.2e-2],[0.645,6e-3],[0.65,9.5e-3],[0.656,1.8e-2],[0.662,3.9e-2],[0.667,6e-3],[0.673,9.5e-3],[0.678,1.5e-2],[0.684,2.2e-2],[0.69,5e-3],[0.696,7.2e-3],[0.701,1.3e-2],[0.707,1.7e-2],[0.712,5e-3],[0.718,6.3e-3],[0.724,1.1e-2],[0.73,1.3e-2],[0.735,4.5e-3],[0.741,5.5e-3],[0.746,1e-2],[0.752,7.2e-3],[0.758,1e-2],[0.764,4.8e-3],[0.77,1.2e-2],[0.775,9.5e-3],[0.781,4.5e-3],[0.787,5.5e-3],[0.792,1.1e-2],[0.798,7.2e-3],[0.804,1.2e-2],[0.809,9.5e-3],[0.815,6e-3],[0.821,3.0e-2],[0.829,7.9e-2],[0.838,7.2e-3],[0.849,5.5e-3],[0.86,5.1e-2],[0.869,9.5e-3],[0.877,1.0e-1],[0.886,7.2e-3],[0.893,2.4e-3],[0.903,8.9e-4],[0.911,5.5e-3],[0.921,9.5e-3],[0.931,1.5e-2],[0.943,2.2e-2],[0.954,3.0e-2],[0.965,1.5e-2],[0.977,2.2e-2],[0.985,3.0e-2],[0.994,5.9e-2],[1.002,1.5e-2],[1.011,1.1e-2]];
const D_R300: P[] = [[0.028,5.9e-4],[0.032,6.6e-6],[0.038,1.1e-4],[0.044,1.55e-5],[0.049,3.5e-5],[0.056,1.0e-5],[0.064,2.0e-5],[0.071,4.7e-5],[0.078,6.6e-6],[0.082,1.2e-6],[0.088,8.7e-6],[0.095,3.5e-5],[0.103,6.3e-5],[0.113,8.3e-5],[0.123,1.26e-4],[0.132,1.1e-4],[0.141,3.3e-4],[0.151,1.9e-4],[0.163,5.9e-4],[0.174,7.8e-4],[0.184,4.5e-4],[0.194,7.8e-4],[0.205,2.5e-4],[0.214,8.3e-5],[0.218,1.8e-5],[0.224,1.1e-4],[0.231,1.35e-3],[0.236,7.2e-3],[0.242,7.8e-4],[0.248,1.95e-2],[0.253,1.8e-3],[0.259,9.1e-2],[0.265,4.8e-3],[0.27,3.0e-2],[0.276,3.2e-3],[0.282,5.9e-2],[0.287,5.5e-3],[0.293,1.8e-3],[0.299,9.5e-3],[0.304,2.75e-3],[0.31,5.5e-3],[0.316,1.8e-3],[0.321,1.5e-2],[0.327,2.4e-3],[0.333,5.5e-3],[0.34,1.8e-3],[0.347,9.5e-3],[0.354,3.0e-2],[0.361,4.2e-3],[0.368,3.9e-2],[0.376,9.5e-3],[0.381,9.1e-2],[0.387,7.2e-3],[0.394,3.2e-3],[0.401,1.35e-3],[0.407,5.9e-4],[0.413,2.5e-4],[0.418,1.26e-4],[0.424,1.8e-3],[0.429,7.2e-3],[0.435,2.2e-2],[0.441,4.8e-3],[0.446,3.0e-2],[0.453,7.2e-3],[0.461,5.1e-2],[0.468,1.5e-2],[0.475,1.0e-1],[0.482,3.0e-2],[0.489,1.0e-1],[0.496,2.2e-2],[0.503,1.1e-2]];

const PW = 365;
const PH = 274;
const X_AXIS_H = 46;

const toRows = (pts: P[]) => pts.map(([f, s]) => ({ f, s }));
const near = (a: number, b: number) => Math.abs(a - b) < 1e-9;

function YTick(props: any) {
  const { x, y, payload } = props;
  const v = payload.value as number;
  const lg = Math.log10(v);
  const e = Math.round(lg);
  const major = Math.abs(lg - e) < 1e-6;
  const len = major ? 5 : 2.5;
  return (
    <g>
      <line x1={x} y1={y} x2={x + len} y2={y} stroke={AXIS_COLOR} strokeWidth={1} />
      <line x1={x + PW} y1={y} x2={x + PW - len} y2={y} stroke={AXIS_COLOR} strokeWidth={1} />
      {major && (
        <text x={x - 6} y={y + 8} textAnchor="end" fontFamily={FONT} fontSize={24} fill="#000">
          10<tspan dy={-11} fontSize={16}>{String(e)}</tspan>
        </text>
      )}
    </g>
  );
}

function makeXTick(labels: number[]) {
  return (props: any) => {
    const { x, y, payload } = props;
    const v = payload.value as number;
    const show = labels.some((l) => near(l, v));
    return (
      <g>
        <line x1={x} y1={y} x2={x} y2={y - 5} stroke={AXIS_COLOR} strokeWidth={1} />
        <line x1={x} y1={y - PH} x2={x} y2={y - PH + 5} stroke={AXIS_COLOR} strokeWidth={1} />
        {show && (
          <text x={x} y={y + 28} textAnchor="middle" fontFamily={FONT} fontSize={24} fill="#000">
            {String(v)}
          </text>
        )}
      </g>
    );
  };
}

type PanelProps = {
  left: number;
  top: number;
  marginLeft: number;
  xDomain: [number, number];
  xTicks: number[];
  xLabels: number[];
  bands: P[];
  series: P[][];
};

function Panel({ left, top, marginLeft, xDomain, xTicks, xLabels, bands, series }: PanelProps) {
  const width = marginLeft + 60 + PW + 5;
  const height = 40 + PH + X_AXIS_H;
  return (
    <div style={{ position: 'absolute', left, top }}>
      <LineChart width={width} height={height} margin={{ top: 40, right: 5, bottom: 0, left: marginLeft }}>
        <XAxis
          dataKey="f"
          type="number"
          domain={xDomain}
          allowDataOverflow
          ticks={xTicks}
          interval={0}
          tick={makeXTick(xLabels)}
          tickLine={false}
          axisLine={false}
          tickSize={0}
          tickMargin={0}
          height={X_AXIS_H}
        />
        <YAxis
          type="number"
          scale="log"
          domain={Y_DOMAIN}
          allowDataOverflow
          ticks={Y_TICKS}
          interval={0}
          tick={YTick}
          tickLine={false}
          axisLine={false}
          tickSize={0}
          tickMargin={0}
          width={60}
        />
        {bands.map(([a, b], i) => (
          <ReferenceArea key={'band' + i} x1={a} x2={b} fill={BAND_COLOR} fillOpacity={1} stroke="none" />
        ))}
        {series.map((pts, i) => (
          <Line
            key={'s' + i}
            data={toRows(pts)}
            dataKey="s"
            type="linear"
            stroke={COLORS[i]}
            strokeWidth={2.6}
            dot={false}
            activeDot={false}
            isAnimationActive={false}
            strokeLinejoin="round"
          />
        ))}
        <ReferenceArea
          x1={xDomain[0]}
          x2={xDomain[1]}
          y1={Y_DOMAIN[0]}
          y2={Y_DOMAIN[1]}
          fill="none"
          stroke={AXIS_COLOR}
          strokeWidth={1}
        />
      </LineChart>
    </div>
  );
}

function NoteBox({ left, top, width, t, order }: { left: number; top: number; width: number; t: string; order: string }) {
  return (
    <div
      style={{
        position: 'absolute',
        left,
        top,
        width,
        height: 42,
        boxSizing: 'border-box',
        border: '1px solid #000',
        background: '#fff',
        display: 'flex',
        alignItems: 'center',
        justifyContent: 'center',
        fontFamily: FONT,
        fontSize: 25,
        color: '#000',
        whiteSpace: 'nowrap',
      }}
    >
      <span>
        <i>t</i>={t} μm, {order}
      </span>
    </div>
  );
}

export default function App() {
  const yTitle = (cy: number) => (
    <text
      x={68}
      y={cy}
      transform={`rotate(-90, 68, ${cy})`}
      textAnchor="middle"
      fontFamily={FONT}
      fontSize={24}
      fill="#000"
    >
      Sensitivity (μPa Hz<tspan dy={-10} fontSize={16}>-1/2</tspan>
      <tspan dy={10}>)</tspan>
    </text>
  );
  return (
    <div style={{ position: 'absolute', left: 0, top: 0, width: 964, height: 765, background: '#fff', fontFamily: FONT }}>
      <Panel left={0} top={0} marginLeft={74} xDomain={X_DOMAIN_1ST} xTicks={X_TICKS_1ST} xLabels={[]} bands={BANDS_A} series={[A_R100, A_R150, A_R200]} />
      <Panel left={500} top={0} marginLeft={32} xDomain={X_DOMAIN_2ND} xTicks={X_TICKS_2ND} xLabels={[]} bands={BANDS_B} series={[B_R100, B_R150, B_R200]} />
      <Panel left={0} top={331} marginLeft={74} xDomain={X_DOMAIN_1ST} xTicks={X_TICKS_1ST} xLabels={X_LABELS_1ST} bands={BANDS_C} series={[C_R100, C_R150, C_R200]} />
      <Panel left={500} top={331} marginLeft={32} xDomain={X_DOMAIN_2ND} xTicks={X_TICKS_2ND} xLabels={X_LABELS_2ND} bands={BANDS_D} series={[D_R100, D_R150, D_R200, D_R300]} />

      <svg width={964} height={765} style={{ position: 'absolute', left: 0, top: 0, pointerEvents: 'none' }}>
        <text x={11} y={30} fontFamily={FONT} fontSize={25} fill="#000">(a)</text>
        <text x={512} y={30} fontFamily={FONT} fontSize={25} fill="#000">(b)</text>
        <text x={11} y={355} fontFamily={FONT} fontSize={25} fill="#000">(c)</text>
        <text x={512} y={357} fontFamily={FONT} fontSize={25} fill="#000">(d)</text>
        {yTitle(177)}
        {yTitle(508)}
        <text x={316} y={706} textAnchor="middle" fontFamily={FONT} fontSize={24} fill="#000">Frequency (MHz)</text>
        <text x={774} y={706} textAnchor="middle" fontFamily={FONT} fontSize={24} fill="#000">Frequency (MHz)</text>
      </svg>

      <NoteBox left={334} top={264} width={159} t="1" order="1st." />
      <NoteBox left={783} top={264} width={169} t="1" order="2nd." />
      <NoteBox left={334} top={595} width={159} t="2" order="1st." />
      <NoteBox left={783} top={595} width={169} t="2" order="2nd." />

      <div
        style={{
          position: 'absolute',
          left: 162,
          top: 727,
          width: 731,
          height: 31,
          boxSizing: 'border-box',
          border: '1px solid #000',
          background: '#fff',
          display: 'flex',
          alignItems: 'center',
          justifyContent: 'space-between',
          padding: '0 3px 0 5px',
          fontFamily: FONT,
          fontSize: 24,
          color: '#000',
          whiteSpace: 'nowrap',
        }}
      >
        {RADII.map((r, i) => (
          <div key={r} style={{ display: 'flex', alignItems: 'center' }}>
            <span style={{ display: 'inline-block', width: 52, height: 0, borderTop: `2px solid ${COLORS[i]}`, marginRight: 6 }} />
            <span>
              <i>R</i>={r} μm
            </span>
          </div>
        ))}
      </div>
    </div>
  );
}
